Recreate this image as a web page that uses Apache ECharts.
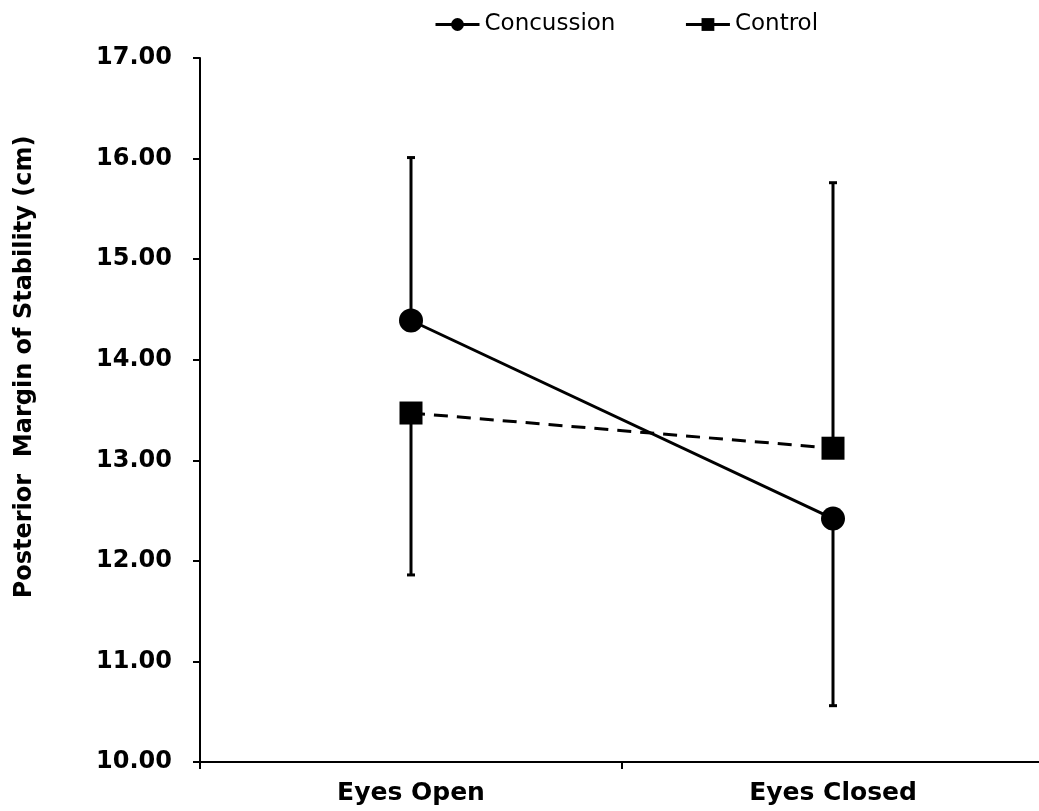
<!DOCTYPE html>
<html>
<head>
<meta charset="utf-8">
<script src="https://cdn.jsdelivr.net/npm/echarts@6/dist/echarts.min.js"></script>
<style>
html,body{margin:0;padding:0;background:#fff;}
#chart{width:1039px;height:811px;}
</style>
</head>
<body>
<div id="chart"></div>
<script>
// ---- data ----
const categories = ['Eyes Open', 'Eyes Closed'];
const seriesNames = ['Concussion', 'Control'];
const concussionMean = [14.39, 12.42];
const concussionErrEnd = [16.01, 10.56];   // one-sided error bar end
const controlMean = [13.47, 13.12];
const controlErrEnd = [11.86, 15.76];      // one-sided error bar end
const yTicks = [10, 11, 12, 13, 14, 15, 16, 17];
const yTitle = 'Posterior  Margin of Stability (cm)';

const chart = echarts.init(document.getElementById('chart'), null, {renderer: 'canvas'});

function errData(mean, end) {
  return mean.map((m, i) => [i, m, end[i]]);
}
function renderErr(params, api) {
  const p = api.coord([api.value(0), api.value(1)]);
  const e = api.coord([api.value(0), api.value(2)]);
  return {
    type: 'group',
    children: [
      {type: 'line', shape: {x1: p[0], y1: p[1], x2: e[0], y2: e[1]}, style: {stroke: '#000', lineWidth: 3}},
      {type: 'line', shape: {x1: e[0] - 4, y1: e[1], x2: e[0] + 4, y2: e[1]}, style: {stroke: '#000', lineWidth: 3}}
    ]
  };
}

const option = {
  animation: false,
  backgroundColor: '#fff',
  grid: {left: 200, width: 844, top: 58, bottom: 49, containLabel: false, outerBoundsMode: 'none'},
  legend: {
    data: seriesNames,
    left: 429,
    top: 8,
    itemWidth: 44,
    itemHeight: 16,
    itemGap: 69,
    textStyle: {fontFamily: 'DejaVu Sans', fontSize: 23, color: '#000'},
    lineStyle: {type: 'solid', width: 3}
  },
  xAxis: {
    type: 'category',
    data: categories,
    boundaryGap: true,
    axisLine: {lineStyle: {color: '#000', width: 2}},
    axisTick: {show: true, length: 7, lineStyle: {color: '#000', width: 2}},
    axisLabel: {margin: 19, color: '#000', fontFamily: 'DejaVu Sans', fontWeight: 'bold', fontSize: 25},
    splitLine: {show: false}
  },
  yAxis: {
    type: 'value',
    min: yTicks[0],
    max: yTicks[yTicks.length - 1],
    interval: 1,
    axisLine: {show: true, lineStyle: {color: '#000', width: 2}},
    axisTick: {show: true, length: 7, lineStyle: {color: '#000', width: 2}},
    axisLabel: {margin: 28, color: '#000', fontFamily: 'DejaVu Sans', fontWeight: 'bold', fontSize: 24,
      formatter: v => v.toFixed(2)},
    splitLine: {show: false}
  },
  graphic: [{
    type: 'text',
    x: 25, y: 367,
    rotation: Math.PI / 2,
    style: {
      text: yTitle,
      fill: '#000',
      font: 'bold 24px "DejaVu Sans"',
      textAlign: 'center',
      textVerticalAlign: 'middle'
    }
  }],
  series: [
    {
      type: 'custom', name: 'errConc', renderItem: renderErr,
      data: errData(concussionMean, concussionErrEnd), z: 1, silent: true
    },
    {
      type: 'custom', name: 'errCtrl', renderItem: renderErr,
      data: errData(controlMean, controlErrEnd), z: 1, silent: true
    },
    {
      name: seriesNames[0], type: 'line', data: concussionMean,
      symbol: 'circle', symbolSize: 24,
      lineStyle: {color: '#000', width: 3, type: 'solid'},
      itemStyle: {color: '#000'}, z: 3
    },
    {
      name: seriesNames[1], type: 'line', data: controlMean,
      symbol: 'rect', symbolSize: 23,
      lineStyle: {color: '#000', width: 3, type: [14, 9]},
      itemStyle: {color: '#000'}, z: 3
    }
  ]
};
chart.setOption(option);
</script>
</body>
</html>
